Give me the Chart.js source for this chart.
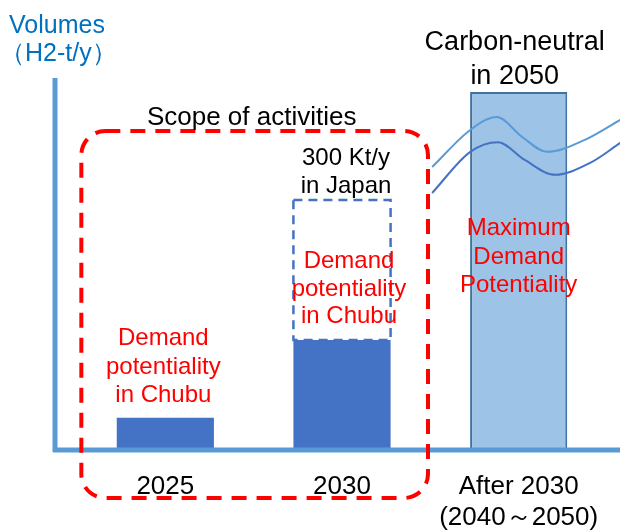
<!DOCTYPE html>
<html>
<head>
<meta charset="utf-8">
<script src="https://cdn.jsdelivr.net/npm/chart.js@4/dist/chart.umd.min.js"></script>
<style>
  html, body { margin: 0; padding: 0; background: #fff; }
</style>
</head>
<body>
<canvas id="myChart" width="620" height="531"></canvas>
<script>
// categories and values (relative volumes, no printed scale)
const categories = ['2025', '2030', ['After 2030', '(2040～2050)']];
const demand = [8.4, 29.4, 96.2];
const japanTarget = [null, [29.4, 67.1], null];

// the two decorative trend curves (x on a 0-100 helper scale)
const upperX = [67.0, 74.2, 79.2, 84.0, 88.7, 95.8, 102.5];
const upperY = [76.0, 86.0, 89.5, 84.1, 80.1, 83.3, 88.7];
const lowerX = [67.0, 74.2, 79.4, 84.5, 90.2, 96.8, 102.5];
const lowerY = [69.0, 80.1, 82.7, 77.9, 73.9, 77.1, 82.5];

// text
const axisTitle = ['Volumes', '（H2-t/y）'];
const goalTitle = ['Carbon-neutral', 'in 2050'];
const scopeTitle = 'Scope of activities';
const japanNote = ['300 Kt/y', 'in Japan'];
const chubuNote = ['Demand', 'potentiality', 'in Chubu'];
const maxNote = ['Maximum', 'Demand', 'Potentiality'];

const FONT = '"Liberation Sans", Arial, sans-serif';
const AXIS_BLUE = '#5B9BD5';

function zip(xs, ys) {
  return xs.map((x, i) => ({ x: x, y: ys[i] }));
}

function textLines(ctx, lines, x, y, step, size, color, align) {
  ctx.font = size + 'px ' + FONT;
  ctx.fillStyle = color;
  ctx.textAlign = align || 'center';
  ctx.textBaseline = 'alphabetic';
  lines.forEach((t, i) => ctx.fillText(t, x, y + i * step));
}

const decor = {
  id: 'decor',
  afterDatasetsDraw(chart) {
    const ctx = chart.ctx;
    const area = chart.chartArea;
    const xs = chart.scales.x;
    const c0 = xs.getPixelForValue(0), c1 = xs.getPixelForValue(1), c2 = xs.getPixelForValue(2);

    // dashed outline for the 300 Kt/y target
    const tgt = chart.getDatasetMeta(1).data[1];
    ctx.save();
    ctx.strokeStyle = '#4472C4';
    ctx.lineWidth = 2.5;
    ctx.setLineDash([9, 6]);
    ctx.strokeRect(tgt.x - tgt.width / 2, tgt.y, tgt.width, tgt.base - tgt.y);
    ctx.restore();

    // axis lines
    ctx.save();
    ctx.strokeStyle = AXIS_BLUE;
    ctx.lineWidth = 5;
    ctx.beginPath();
    ctx.moveTo(area.left - 22, area.top);
    ctx.lineTo(area.left - 22, area.bottom + 3);
    ctx.moveTo(area.left - 24, area.bottom + 1);
    ctx.lineTo(chart.width, area.bottom + 1);
    ctx.stroke();
    ctx.restore();

    // scope of activities box
    ctx.save();
    ctx.strokeStyle = '#FF0000';
    ctx.lineWidth = 4;
    ctx.setLineDash([15, 10]);
    ctx.beginPath();
    ctx.roundRect(c0 - 84, 131, (c1 + 86) - (c0 - 84), 367, 24);
    ctx.stroke();
    ctx.restore();

    // texts
    ctx.save();
    textLines(ctx, axisTitle.slice(0, 1), 9, 33, 0, 25, '#0070C0', 'left');
    textLines(ctx, axisTitle.slice(1), 0, 61, 0, 25, '#0070C0', 'left');
    textLines(ctx, goalTitle, c2 - 4, 50, 34, 27, '#000');
    textLines(ctx, [scopeTitle], (c0 + c1) / 2 - 2, 125, 0, 26, '#000');
    textLines(ctx, japanNote, c1 + 4, 165, 28, 24, '#000');
    textLines(ctx, chubuNote, c1 + 7, 268, 27.5, 24, '#FF0000');
    textLines(ctx, chubuNote, c0 - 2, 345, 28.5, 24, '#FF0000');
    textLines(ctx, maxNote, c2, 235, 28.5, 24, '#FF0000');
    ctx.restore();
  }
};

const ctx = document.getElementById('myChart').getContext('2d');
const chart = new Chart(ctx, {
  type: 'bar',
  data: {
    labels: categories,
    datasets: [
      {
        type: 'line',
        data: zip(upperX, upperY),
        xAxisID: 'x2',
        borderColor: AXIS_BLUE,
        borderWidth: 2,
        pointRadius: 0,
        cubicInterpolationMode: 'monotone',
        clip: false,
        order: 0
      },
      {
        data: japanTarget,
        backgroundColor: 'rgba(0,0,0,0)',
        borderWidth: 0,
        grouped: false,
        order: 3
      },
      {
        data: demand,
        backgroundColor: ['#4472C4', '#4472C4', '#9DC3E6'],
        borderColor: ['#4472C4', '#4472C4', '#41719C'],
        borderWidth: [0, 0, 2],
        borderSkipped: 'bottom',
        grouped: false,
        order: 2
      },
      {
        type: 'line',
        data: zip(lowerX, lowerY),
        xAxisID: 'x2',
        borderColor: '#4472C4',
        borderWidth: 2,
        pointRadius: 0,
        cubicInterpolationMode: 'monotone',
        clip: false,
        order: 1
      }
    ]
  },
  options: {
    responsive: false,
    animation: false,
    categoryPercentage: 1,
    barPercentage: 0.55,
    layout: { padding: { left: 77, right: 13, top: 78, bottom: 0 } },
    plugins: { legend: { display: false }, tooltip: { enabled: false } },
    scales: {
      x: {
        grid: { display: false },
        border: { display: false },
        ticks: {
          color: '#000',
          font: { family: FONT, size: 26 },
          padding: 14,
          maxRotation: 0,
          autoSkip: false
        },
        afterFit(s) { s.height = 82; }
      },
      x2: { type: 'linear', min: 0, max: 100, display: false, offset: false },
      y: { min: 0, max: 100, display: false }
    }
  },
  plugins: [decor]
});
</script>
</body>
</html>
